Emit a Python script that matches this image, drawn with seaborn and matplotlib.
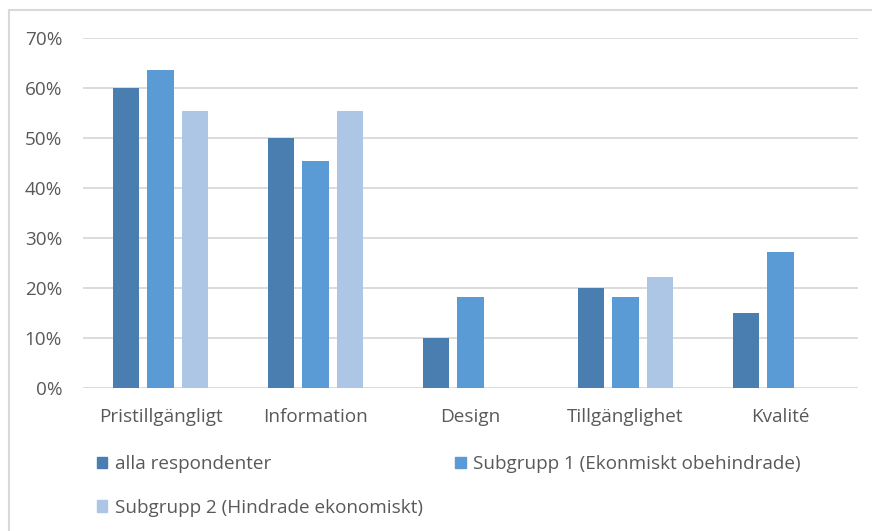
import matplotlib
matplotlib.use("Agg")
import matplotlib.pyplot as plt
from matplotlib.patches import Rectangle
from matplotlib.ticker import FuncFormatter, MultipleLocator
import seaborn as sns
import pandas as pd

categories = ["Pristillgängligt", "Information", "Design", "Tillgänglighet", "Kvalité"]
series_names = [
    "alla respondenter",
    "Subgrupp 1 (Ekonmiskt obehindrade)",
    "Subgrupp 2 (Hindrade ekonomiskt)",
]
alla = [60.0, 50.0, 10.0, 20.0, 15.0]
subgrupp1 = [63.6, 45.4, 18.2, 18.2, 27.3]
subgrupp2 = [55.5, 55.5, 0.0, 22.2, 0.0]
colors = ["#4A7EB0", "#5B9BD5", "#ADC6E6"]

rows = []
for name, vals in zip(series_names, [alla, subgrupp1, subgrupp2]):
    for cat, v in zip(categories, vals):
        rows.append({"kategori": cat, "grupp": name, "andel": v})
df = pd.DataFrame(rows)

sns.set_theme(style="white")
plt.rcParams["font.family"] = ["Open Sans", "DejaVu Sans"]
text_color = "#595959"
fs = 13.6

fig = plt.figure(figsize=(8.72, 5.31), dpi=100)
ax = fig.add_axes([83 / 872, 1 - 388 / 531, (858 - 83) / 872, (388 - 38) / 531])

sns.barplot(
    data=df, x="kategori", y="andel", hue="grupp",
    order=categories, hue_order=series_names,
    palette=colors, width=0.667, gap=0.22,
    linewidth=0, saturation=1, ax=ax, legend=False,
)

ax.set_ylim(0, 70)
ax.set_xlim(-0.5, len(categories) - 0.5)
ax.yaxis.set_major_locator(MultipleLocator(10))
ax.yaxis.set_major_formatter(FuncFormatter(lambda v, _: f"{v:.0f}%"))
ax.grid(axis="y", color="#D9D9D9", linewidth=1.3)
ax.set_axisbelow(True)
for s in ax.spines.values():
    s.set_visible(False)
ax.set_xlabel("")
ax.set_ylabel("")
ax.tick_params(axis="both", length=0, labelsize=fs, labelcolor=text_color)
ax.tick_params(axis="y", pad=15)
ax.tick_params(axis="x", pad=14.5)

# legend: row-major order with two columns
handles = [Rectangle((0, 0), 1, 1, color=c) for c in colors]
order = [0, 2, 1]
leg = fig.legend(
    [handles[i] for i in order], [series_names[i] for i in order],
    ncol=2, loc="upper left", bbox_to_anchor=(97 / 872, 1 - 455 / 531),
    frameon=False, fontsize=fs, handlelength=0.55, handleheight=0.55,
    handletextpad=0.4, labelspacing=1.36, columnspacing=1.72,
    borderaxespad=0, borderpad=0,
)
for t in leg.get_texts():
    t.set_color(text_color)

# chart area border
fig.patches.append(Rectangle((9 / 872, -0.05), 1.1, 1 - 10 / 531 + 0.05,
                             transform=fig.transFigure, fill=False,
                             edgecolor="#D9D9D9", linewidth=1.5))

fig.savefig("out.png", dpi=100)
